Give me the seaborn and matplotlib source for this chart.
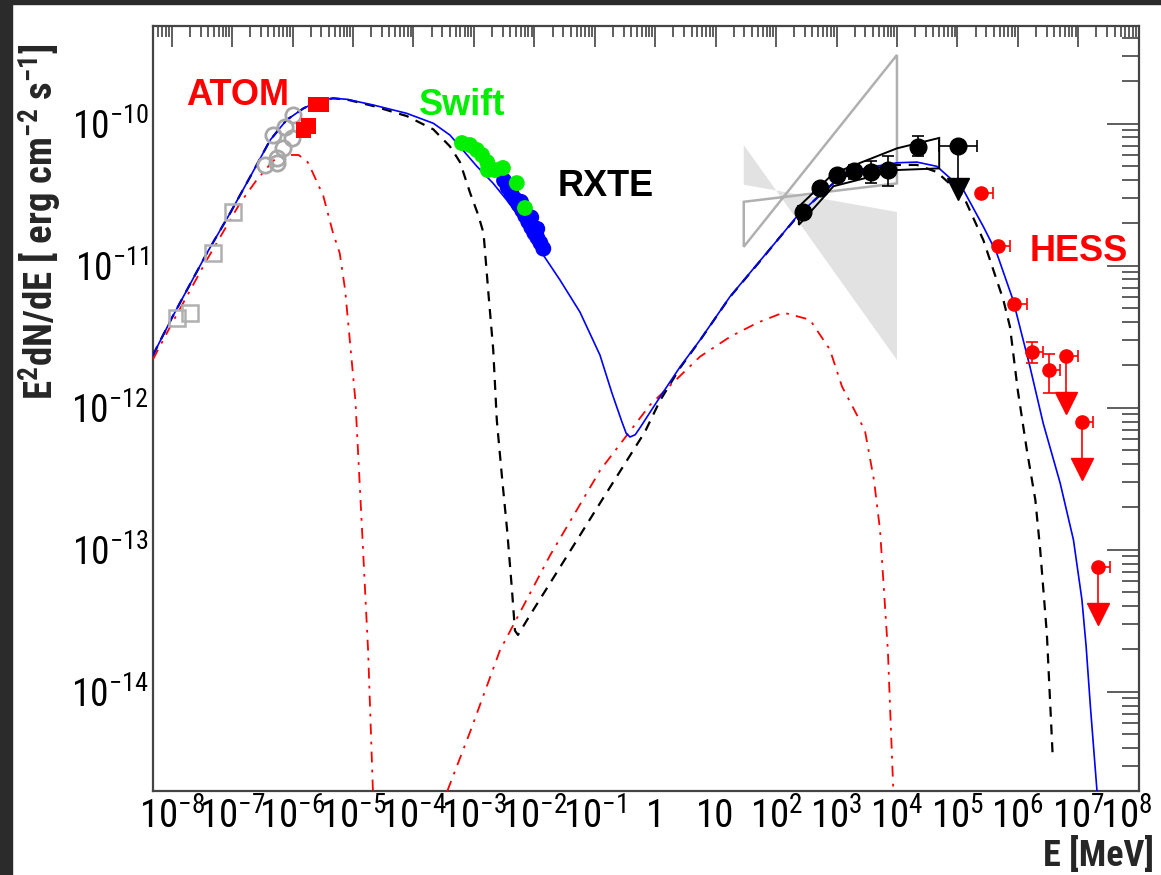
import numpy as np
import matplotlib
matplotlib.use('Agg')
import matplotlib.pyplot as plt
import seaborn as sns
from matplotlib import font_manager as fm
from matplotlib.ticker import LogLocator, FixedLocator, FuncFormatter, NullFormatter
from matplotlib.patches import Polygon, Rectangle
from matplotlib.transforms import ScaledTranslation

# ---- model curves as (log10 E [MeV], log10 E^2dN/dE) ----
total_logE = [-8.31, -8.0, -7.42, -7.035, -6.70, -6.37, -6.10, -5.82, -5.546, -5.326, -5.10, -4.665,
              -4.11, -3.67, -3.395, -3.23, -2.95, -2.68, -2.457, -2.126, -1.906, -1.576, -1.245,
              -0.914, -0.715, -0.55, -0.48, -0.417, -0.33, -0.25, 0.08, 0.41, 0.742, 1.237, 1.79,
              2.06, 2.34, 2.73, 3.00, 3.25, 3.5, 4.0, 4.33, 4.66, 5.10, 5.43, 5.65, 5.92, 6.20,
              6.42, 6.70, 6.92, 7.06, 7.13, 7.20, 7.31]
total_logF = [-11.63, -11.37, -10.913, -10.631, -10.373, -10.115, -9.974, -9.892, -9.835, -9.821,
              -9.828, -9.868, -9.927, -9.997, -10.08, -10.162, -10.30, -10.42, -10.537, -10.725,
              -10.89, -11.10, -11.326, -11.629, -11.897, -12.10, -12.18, -12.206, -12.19, -12.14,
              -11.924, -11.713, -11.523, -11.218, -10.937, -10.80, -10.655, -10.50, -10.40,
              -10.345, -10.31, -10.275, -10.27, -10.30, -10.467, -10.725, -10.91, -11.24, -11.71,
              -12.11, -12.53, -12.93, -13.35, -13.68, -14.1, -14.70]

ssc_logE = [-8.31, -8.0, -7.42, -7.035, -6.70, -6.37, -6.10, -5.82, -5.546, -5.326, -5.10, -4.665,
            -4.11, -3.67, -3.395, -3.23, -3.06, -2.93, -2.84, -2.76, -2.68, -2.62, -2.53, -2.45,
            -2.37, -2.32, -2.27, -2.07, -1.57, -0.91, -0.17, 0.08, 0.41, 0.742, 1.237, 1.79,
            2.06, 2.34, 2.73, 3.00, 3.25, 3.5, 4.0, 4.33, 4.66, 5.10, 5.43, 5.65, 5.76, 5.87,
            6.0, 6.15, 6.29, 6.37, 6.48, 6.58]
ssc_logF = [-11.63, -11.37, -10.913, -10.631, -10.373, -10.115, -9.974, -9.892, -9.835, -9.821,
            -9.83, -9.875, -9.946, -10.04, -10.16, -10.27, -10.49, -10.64, -10.77, -11.19, -11.59,
            -12.09, -12.51, -12.86, -13.28, -13.57, -13.60, -13.46, -13.12, -12.67, -12.17,
            -11.95, -11.72, -11.525, -11.22, -10.94, -10.80, -10.66, -10.50, -10.40, -10.35,
            -10.32, -10.29, -10.29, -10.34, -10.51, -10.82, -11.10, -11.24, -11.43, -11.88,
            -12.30, -12.65, -13.0, -13.59, -14.48]

sync2_logE = [-8.31, -8.0, -7.42, -7.035, -6.87, -6.60, -6.32, -6.10, -5.90, -5.75, -5.66, -5.49,
              -5.33, -5.22, -5.13, -4.96, -4.85, -4.75, -4.67]
sync2_logF = [-11.66, -11.41, -10.96, -10.68, -10.56, -10.40, -10.26, -10.22, -10.22, -10.27,
              -10.35, -10.51, -10.77, -10.91, -11.17, -11.95, -12.86, -13.71, -14.70]

ic2_logE = [-3.44, -3.06, -2.57, -1.74, -0.91, -0.085, 0.742, 1.24, 1.70, 2.12, 2.56, 2.89, 3.09,
            3.30, 3.47, 3.62, 3.72, 3.85, 3.94]
ic2_logF = [-14.70, -14.28, -13.71, -13.04, -12.44, -11.98, -11.64, -11.50, -11.40, -11.33, -11.38,
            -11.59, -11.85, -12.02, -12.16, -12.51, -12.86, -13.71, -14.70]

# ---- data points ----
old_sq_E = [1.21e-8, 2.01e-8, 4.79e-8, 1.02e-7]
old_sq_F = [4.27e-12, 4.62e-12, 1.22e-11, 2.40e-11]

old_circ_E = [3.50e-7, 5.46e-7, 5.46e-7, 7.02e-7, 9.66e-7, 4.79e-7, 7.50e-7, 1.03e-6]
old_circ_F = [5.12e-11, 5.26e-11, 5.70e-11, 6.71e-11, 7.89e-11, 8.31e-11, 9.53e-11, 1.15e-10]

atom_E = [1.50e-6, 1.82e-6, 2.44e-6, 3.02e-6]
atom_F = [9.04e-11, 9.64e-11, 1.37e-10, 1.37e-10]

rxte_E = [3.16e-3, 3.63e-3, 4.17e-3, 4.79e-3, 5.50e-3, 6.31e-3, 7.08e-3, 7.94e-3, 8.91e-3,
          1.0e-2, 1.12e-2, 1.26e-2, 1.41e-2, 6.03e-3, 8.91e-3, 1.12e-2]
rxte_F = [3.98e-11, 3.55e-11, 3.24e-11, 2.95e-11, 2.69e-11, 2.45e-11, 2.24e-11, 2.04e-11,
          1.86e-11, 1.70e-11, 1.58e-11, 1.45e-11, 1.32e-11, 2.82e-11, 2.19e-11, 1.82e-11]

swift_E = [6.35e-4, 8.61e-4, 1.12e-3, 1.36e-3, 1.66e-3, 1.70e-3, 2.24e-3, 3.02e-3, 5.13e-3, 7.0e-3]
swift_F = [7.31e-11, 7.08e-11, 6.53e-11, 6.03e-11, 5.37e-11, 4.72e-11, 4.72e-11, 4.88e-11,
           3.82e-11, 2.55e-11]

fermi_E = [280, 530, 1020, 1950, 3760, 7180, 22400]
fermi_F = [2.40e-11, 3.51e-11, 4.37e-11, 4.65e-11, 4.59e-11, 4.72e-11, 6.82e-11]
fermi_Flo = [2.12e-11, 3.30e-11, 4.15e-11, 4.07e-11, 3.80e-11, 3.66e-11, 5.89e-11]
fermi_Fhi = [2.65e-11, 3.73e-11, 4.60e-11, 5.13e-11, 5.50e-11, 5.93e-11, 8.22e-11]
fermi_ul_E, fermi_ul_F, fermi_ul_Elo, fermi_ul_Ehi, fermi_ul_arrow = 1.01e5, 7.0e-11, 5.0e4, 2.1e5, 3.47e-11

hess_E = [2.5e5, 4.7e5, 8.7e5, 1.69e6, 3.29e6]
hess_F = [3.24e-11, 1.38e-11, 5.37e-12, 2.48e-12, 1.84e-12]
hess_Ehi = [3.9e5, 7.4e5, 1.4e6, 2.63e6, 5.0e6]
hess_Flo = [3.24e-11, 1.38e-11, 5.37e-12, 2.06e-12, 1.28e-12]
hess_Fhi = [3.24e-11, 1.38e-11, 5.37e-12, 2.92e-12, 2.39e-12]
hess_ul_E = [6.3e6, 1.15e7, 2.14e7]
hess_ul_F = [2.31e-12, 7.9e-13, 7.6e-14]
hess_ul_Ehi = [9.8e6, 1.78e7, 3.3e7]
hess_ul_arrow = [1.08e-12, 3.7e-13, 3.5e-14]

# butterflies (corner points)
egret_E = [29.2, 1e4, 1e4, 29.2]
egret_F = [2.82e-11, 3.80e-11, 3.05e-10, 1.36e-11]
shade_E = [29.2, 1e4, 1e4, 29.2]
shade_F = [7.08e-11, 2.17e-12, 2.39e-11, 3.72e-11]
lat_E = [238, 891, 1e4, 5.0e4, 5.0e4, 1e4, 891, 238]
lat_F = [2.61e-11, 4.47e-11, 6.71e-11, 7.94e-11, 4.85e-11, 4.72e-11, 3.63e-11, 1.94e-11]

labels = {'ATOM': (1.25e-7, 1.57e-10, '#ff0000'),
          'Swift': (6.35e-4, 1.34e-10, '#00ee00'),
          'RXTE': (0.153, 3.64e-11, 'black'),
          'HESS': (1.03e7, 1.25e-11, '#ff0000')}

x_decades = list(range(-8, 9))
y_decades = list(range(-14, -9))

# ---- style ----
sns.set_style('white')


def pick_condensed():
    entries = fm.fontManager.ttflist
    names = {f.name for f in entries}
    for p in ['Liberation Sans Narrow', 'Roboto Condensed', 'Open Sans Condensed',
              'Noto Sans Condensed', 'DejaVu Sans Condensed']:
        if p in names:
            return p, 'normal'
    for fam in ['Liberation Sans', 'Noto Sans', 'Open Sans', 'Roboto', 'DejaVu Sans', 'Lato', 'Inter']:
        for f in entries:
            if f.name == fam and 'condensed' in str(f.stretch) and f.style == 'normal':
                return fam, f.stretch
    return None, None


cfam, cstretch = pick_condensed()
if cfam:
    plt.rcParams['font.family'] = [cfam, 'DejaVu Sans']
    plt.rcParams['font.stretch'] = cstretch
    xtick_fs, ytick_fs, ylab_fs, xlab_fs = 28, 27, 28, 26
else:
    plt.rcParams['font.family'] = ['Liberation Sans', 'DejaVu Sans']
    xtick_fs, ytick_fs, ylab_fs, xlab_fs = 21, 21, 24, 23

fig = plt.figure(figsize=(11.61, 8.75), dpi=100)
ax = fig.add_axes([0.1315, 0.096, 0.8493, 0.8746])
ax.set_xscale('log')
ax.set_yscale('log')

# screenshot borders
fig.add_artist(Rectangle((0, 1 - 4 / 875), 1, 4 / 875, transform=fig.transFigure, color='#2b2b2b'))
fig.add_artist(Rectangle((0, 0), 12 / 1161, 1, transform=fig.transFigure, color='#2b2b2b'))

# butterflies
ax.add_patch(Polygon(list(zip(shade_E, shade_F)), closed=True, facecolor='#e2e2e2',
                     edgecolor='none', zorder=1))
ax.add_patch(Polygon(list(zip(egret_E, egret_F)), closed=True, fill=False,
                     edgecolor='#b0b0b0', lw=1.8, zorder=2))
ax.add_patch(Polygon(list(zip(lat_E, lat_F)), closed=True, fill=False,
                     edgecolor='black', lw=1.4, zorder=4))

# model curves
p10 = lambda a: 10 ** np.array(a)
sns.lineplot(x=p10(sync2_logE), y=p10(sync2_logF), sort=False, estimator=None, ax=ax,
             color='#ff0000', lw=1.3, linestyle=(0, (6, 4, 1.5, 4)), zorder=3)
sns.lineplot(x=p10(ic2_logE), y=p10(ic2_logF), sort=False, estimator=None, ax=ax,
             color='#ff0000', lw=1.3, linestyle=(0, (6, 4, 1.5, 4)), zorder=3)
sns.lineplot(x=p10(ssc_logE), y=p10(ssc_logF), sort=False, estimator=None, ax=ax,
             color='black', lw=1.6, linestyle=(0, (4.5, 3.5)), zorder=3)
sns.lineplot(x=p10(total_logE), y=p10(total_logF), sort=False, estimator=None, ax=ax,
             color='#0000ff', lw=1.2, zorder=3)

# historical optical / radio data
ax.plot(old_sq_E, old_sq_F, ls='none', marker='s', ms=11, mfc='none', mec='#b0b0b0', mew=1.8, zorder=5)
ax.plot(old_circ_E, old_circ_F, ls='none', marker='o', ms=11, mfc='none', mec='#a8a8a8', mew=2, zorder=5)

sns.scatterplot(x=atom_E, y=atom_F, marker='s', s=120, color='#ff0000', edgecolor='none', ax=ax, zorder=6)
sns.scatterplot(x=rxte_E, y=rxte_F, marker='o', s=130, color='#0000ff', edgecolor='none', ax=ax, zorder=6)
sns.scatterplot(x=swift_E, y=swift_F, marker='o', s=130, color='#00ee00', edgecolor='none', ax=ax, zorder=7)

# Fermi points
ferr = [np.array(fermi_F) - np.array(fermi_Flo), np.array(fermi_Fhi) - np.array(fermi_F)]
ax.errorbar(fermi_E, fermi_F, yerr=ferr, fmt='o', ms=12, color='black', ecolor='black',
            elinewidth=1.2, capsize=4, capthick=1.2, zorder=6)
ax.errorbar([fermi_ul_E], [fermi_ul_F],
            xerr=[[fermi_ul_E - fermi_ul_Elo], [fermi_ul_Ehi - fermi_ul_E]],
            fmt='o', ms=12, color='black', elinewidth=1.2, capsize=4, capthick=1.2, zorder=6)
ax.plot([fermi_ul_E, fermi_ul_E], [fermi_ul_F, fermi_ul_arrow], color='black', lw=1.2, zorder=6)
ax.plot([fermi_ul_E], [fermi_ul_arrow], marker='v', ms=16, color='black', ls='none', zorder=6)

# HESS points
hE = np.array(hess_E)
ax.errorbar(hess_E, hess_F, xerr=[np.zeros(len(hE)), np.array(hess_Ehi) - hE],
            yerr=[np.array(hess_F) - np.array(hess_Flo), np.array(hess_Fhi) - np.array(hess_F)],
            fmt='o', ms=9.5, color='#ff0000', elinewidth=1.2, capsize=4, capthick=1.2, zorder=6)
uE = np.array(hess_ul_E)
ax.errorbar(hess_ul_E, hess_ul_F, xerr=[np.zeros(len(uE)), np.array(hess_ul_Ehi) - uE],
            fmt='o', ms=9.5, color='#ff0000', elinewidth=1.2, capsize=4, capthick=1.2, zorder=6)
for e, f, a in zip(hess_ul_E, hess_ul_F, hess_ul_arrow):
    ax.plot([e, e], [f, a], color='#ff0000', lw=1.2, zorder=6)
ax.plot(hess_ul_E, hess_ul_arrow, marker='v', ms=16, color='#ff0000', ls='none', zorder=6)

for txt, (x, y, c) in labels.items():
    ax.text(x, y, txt, color=c, fontsize=26, fontweight='bold', ha='center', va='center',
            family=['Liberation Sans', 'DejaVu Sans'], fontstretch='normal', zorder=8)

ax.set_xlim(4.85e-9, 1e8)
ax.set_ylim(2.0e-15, 4.9e-10)


def fmt(v, pos):
    n = int(round(np.log10(v)))
    if n == 0:
        return '1'
    if n == 1:
        return '10'
    return r'$\mathregular{10^{%d}}$' % n


ax.xaxis.set_major_locator(FixedLocator([10.0 ** k for k in x_decades]))
ax.yaxis.set_major_locator(FixedLocator([10.0 ** k for k in y_decades]))
for axis in (ax.xaxis, ax.yaxis):
    axis.set_minor_locator(LogLocator(base=10, subs=np.arange(2, 10), numticks=400))
    axis.set_major_formatter(FuncFormatter(fmt))
    axis.set_minor_formatter(NullFormatter())

ax.tick_params(which='both', direction='in', top=True, right=True, color='#333333', width=1.1,
               labelcolor='black')
ax.tick_params(axis='x', which='major', length=15, pad=5, labelsize=xtick_fs)
ax.tick_params(axis='x', which='minor', length=8)
ax.tick_params(axis='y', which='major', length=23, pad=3, labelsize=ytick_fs)
ax.tick_params(axis='y', which='minor', length=12)
for sp in ax.spines.values():
    sp.set_color('#444444')
    sp.set_linewidth(1.6)

# pull the last x label (10^8) a little inside the picture, as in the original
last = ax.xaxis.get_major_ticks()[-1].label1
last.set_transform(last.get_transform() + ScaledTranslation(-0.12, 0, fig.dpi_scale_trans))

fig.text(40 / 1161, 1 - 222 / 875, r'E$^{\mathregular{2}}$dN/dE [ erg cm$^{\mathregular{-2}}$ s$^{\mathregular{-1}}$]',
         rotation=90, ha='center', va='center', fontsize=ylab_fs, fontweight='bold')
fig.text(1154 / 1161, 1 - 856 / 875, 'E [MeV]', ha='right', va='center', fontsize=xlab_fs, fontweight='bold')

fig.savefig('out.png', dpi=100)
